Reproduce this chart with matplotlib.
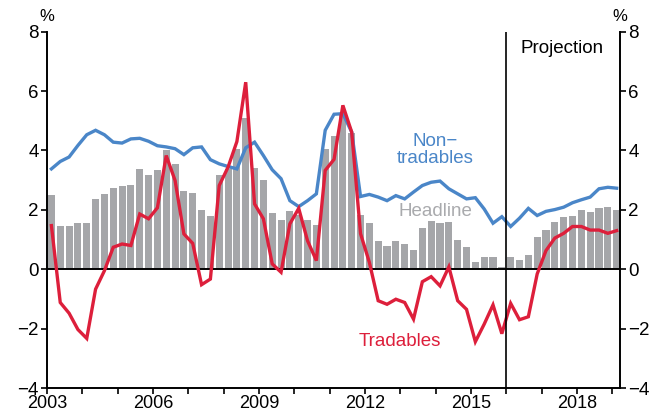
import matplotlib
matplotlib.use("Agg")
import matplotlib.pyplot as plt
import numpy as np

plt.rcParams['font.family'] = ['Liberation Sans', 'DejaVu Sans']

# Quarterly data 2003Q1 .. 2019Q1 (annual % change)
start_year = 2003
headline = [2.51, 1.47, 1.47, 1.57, 1.57, 2.38, 2.55, 2.72, 2.79, 2.85,
            3.36, 3.16, 3.33, 4.00, 3.55, 2.65, 2.56, 2.01, 1.81, 3.19,
            3.36, 4.04, 5.10, 3.41, 3.01, 1.89, 1.67, 1.95, 1.84, 1.67,
            1.48, 4.04, 4.48, 5.26, 4.60, 1.84, 1.57, 0.96, 0.77, 0.96,
            0.85, 0.66, 1.38, 1.64, 1.55, 1.60, 1.00, 0.76, 0.25, 0.42,
            0.42, 0.08, 0.42, 0.32, 0.48, 1.07, 1.33, 1.58, 1.75, 1.81,
            1.98, 1.94, 2.05, 2.11, 2.00]
non_tradables = [3.38, 3.63, 3.78, 4.17, 4.53, 4.68, 4.53, 4.28, 4.25, 4.39,
                 4.41, 4.31, 4.16, 4.12, 4.06, 3.86, 4.09, 4.12, 3.69, 3.55,
                 3.46, 3.38, 4.09, 4.28, 3.83, 3.35, 3.05, 2.31, 2.11, 2.31,
                 2.54, 4.68, 5.22, 5.24, 4.62, 2.45, 2.52, 2.43, 2.31, 2.48,
                 2.37, 2.60, 2.82, 2.93, 2.97, 2.71, 2.54, 2.37, 2.41, 2.03,
                 1.55, 1.77, 1.44, 1.72, 2.05, 1.81, 1.95, 2.01, 2.09, 2.24,
                 2.34, 2.43, 2.71, 2.76, 2.73]
tradables = [1.47, -1.12, -1.48, -2.03, -2.33, -0.67, -0.05, 0.74, 0.85, 0.80,
             1.86, 1.70, 2.07, 3.83, 2.99, 1.19, 0.87, -0.52, -0.33, 2.82,
             3.44, 4.30, 6.30, 2.20, 1.70, 0.18, -0.10, 1.53, 2.05, 0.96,
             0.29, 3.33, 3.70, 5.52, 4.62, 1.20, 0.23, -1.06, -1.18, -1.01,
             -1.12, -1.68, -0.42, -0.25, -0.56, 0.08, -1.06, -1.35, -2.44, -1.85,
             -1.20, -2.17, -1.15, -1.70, -1.60, -0.16, 0.63, 1.05, 1.21, 1.44,
             1.44, 1.32, 1.32, 1.21, 1.30]
projection_start = 2016.0
year_labels = [2003, 2006, 2009, 2012, 2015, 2018]
y_ticks = [-4, -2, 0, 2, 4, 6, 8]

n = len(headline)
x = start_year + 0.125 + 0.25 * np.arange(n)

fig = plt.figure(figsize=(6.51, 4.13), dpi=100)
ax = fig.add_axes([0.0722, 0.0605, 0.8802, 0.8627])

c_blue = '#4A86C8'
c_red = '#DD1F3B'
c_grey = '#A5A6A9'

ax.bar(x, headline, width=0.2, color=c_grey, zorder=1)
ax.axhline(0, color='black', lw=1.4, zorder=2)
ax.plot(x, non_tradables, color=c_blue, lw=2.4, zorder=3, solid_joinstyle='miter')
ax.plot(x, tradables, color=c_red, lw=2.4, zorder=4, solid_joinstyle='miter')
ax.axvline(projection_start, color='black', lw=1.2, zorder=5)

ax.set_xlim(2003, 2019.22)
ax.set_ylim(-4, 8)
ax.set_yticks(y_ticks)
ax.set_xticks(year_labels)
ax.set_xticklabels([str(y) for y in year_labels])
ax.set_xticks(range(2003, 2020), minor=True)

for s in ['left', 'right', 'bottom']:
    ax.spines[s].set_linewidth(1.4)
    ax.spines[s].set_color('black')
ax.spines['top'].set_visible(False)

ax.tick_params(axis='y', which='both', direction='out', length=4, width=1.2,
               left=True, right=True, labelleft=True, labelright=True,
               labelsize=13.5, pad=2)
ax.tick_params(axis='x', which='both', direction='out', length=4, width=1.2,
               labelsize=13, pad=1)
for lbl in ax.get_yticklabels():
    lbl.set_verticalalignment('center_baseline')

fs = 13.5
ax.text(2003, 8.25, '%', ha='center', va='bottom', fontsize=12)
ax.text(2019.22, 8.25, '%', ha='center', va='bottom', fontsize=12)
ax.text(2016.4, 7.45, 'Projection', ha='left', va='center', fontsize=fs, color='black')
ax.text(2013.98, 4.0, 'Non\u2212\ntradables', ha='center', va='center',
        fontsize=fs, color=c_blue, linespacing=1.0)
ax.text(2014.0, 1.94, 'Headline', ha='center', va='center', fontsize=fs, color='#A9AAAD')
ax.text(2012.99, -2.45, 'Tradables', ha='center', va='center', fontsize=fs, color=c_red)

fig.savefig('out.png', dpi=100)
